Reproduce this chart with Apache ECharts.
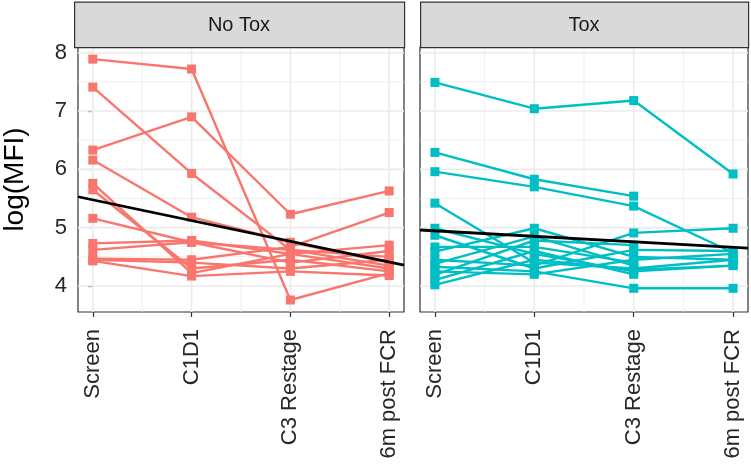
<!DOCTYPE html>
<html>
<head>
<meta charset="utf-8">
<script src="https://cdn.jsdelivr.net/npm/echarts@6/dist/echarts.min.js"></script>
<style>html,body{margin:0;padding:0;background:#fff;}#c{width:751px;height:476px;}</style>
</head>
<body>
<div id="c"></div>
<script>
// ---- data ----
const categories = ['Screen', 'C1D1', 'C3 Restage', '6m post FCR'];
const panels = ['No Tox', 'Tox'];
const yTicks = [4, 5, 6, 7, 8];
const yMinorTicks = [4.5, 5.5, 6.5, 7.5];
const xTicks = [0, 1, 2, 3];
const xMinorTicks = [0.5, 1.5, 2.5];

// No Tox subjects (values at Screen, C1D1, C3 Restage, 6m post FCR)
const noToxSubjects = [
  [7.89, 7.72, 3.76, 4.22],
  [7.41, 5.93, 4.62, 4.35],
  [6.33, 6.90, 5.23, 5.63],
  [6.16, 5.18, 4.75, 4.40],
  [5.76, 4.22, 4.55, 4.30],
  [5.65, 4.30, 4.45, 4.25],
  [5.16, 4.75, 4.62, 4.50],
  [4.73, 4.78, 4.55, 4.70],
  [4.62, 4.75, 4.40, 4.60],
  [4.47, 4.45, 4.67, 5.26],
  [4.45, 4.40, 4.30, 4.45],
  [4.43, 4.17, 4.25, 4.18]
];
// Tox subjects
const toxSubjects = [
  [7.49, 7.04, 7.18, 5.92],
  [6.29, 5.83, 5.54, null],
  [5.96, 5.70, 5.37, 4.57],
  [5.42, 4.40, 4.30, 4.45],
  [4.99, 4.55, 4.25, 4.35],
  [4.87, 4.30, 4.62, 4.60],
  [4.67, 4.67, 4.40, null],
  [4.59, 4.99, 4.50, 4.45],
  [4.45, 4.35, 4.91, 4.99],
  [4.38, 4.85, 4.35, null],
  [4.33, 4.25, 3.96, 3.96],
  [4.25, 4.20, 4.45, 4.55],
  [4.19, 4.78, 4.70, null],
  [4.10, 4.60, 4.20, null],
  [4.02, 4.45, 4.28, 4.35]
];
// fitted regression lines (intercept at Screen, slope per time step)
const noToxFit = [5.477, -0.355];
const toxFit = [4.946, -0.094];

// ---- layout / style ----
const colors = ['#F8766D', '#00BFC4'];
const xMin = -0.15, xMax = 3.15;
const yMin = 3.554, yMax = 8.098;
const gridsPx = [{left: 74, width: 330}, {left: 420, width: 328}];
const gridTop = 47, gridHeight = 265;
const FONT = 'Liberation Sans, Arial, sans-serif';

const chart = echarts.init(document.getElementById('c'), null, {renderer: 'canvas'});

const grid = [], xAxis = [], yAxis = [], series = [], graphic = [];
const subjectsByPanel = [noToxSubjects, toxSubjects];
const fits = [noToxFit, toxFit];

function gridSeries(i, pts, width) {
  return {type: 'line', xAxisIndex: i, yAxisIndex: i, data: pts, z: 1, silent: true,
    symbol: 'none', lineStyle: {color: '#EBEBEB', width: width}, animation: false,
    emphasis: {disabled: true}};
}

gridsPx.forEach((g, i) => {
  grid.push({left: g.left, top: gridTop, width: g.width, height: gridHeight,
    show: true, borderColor: '#333333', borderWidth: 1.2, backgroundColor: '#fff', containLabel: false, z: 0});
  xAxis.push({
    type: 'value', gridIndex: i, min: xMin, max: xMax,
    axisLine: {show: false},
    splitLine: {show: false},
    axisTick: {show: true, customValues: xTicks, length: 5, lineStyle: {color: '#333333', width: 1.2}},
    axisLabel: {show: true, customValues: xTicks, rotate: 90, margin: 17,
      fontFamily: FONT, fontSize: 22, color: '#262626',
      formatter: v => categories[Math.round(v)]}
  });
  yAxis.push({
    type: 'value', gridIndex: i, min: yMin, max: yMax,
    axisLine: {show: false},
    splitLine: {show: false},
    axisTick: {show: i === 0, customValues: yTicks, length: 5, lineStyle: {color: '#333333', width: 1.2}},
    axisLabel: {show: i === 0, customValues: yTicks, margin: 11,
      fontFamily: FONT, fontSize: 22, color: '#262626'},
    name: i === 0 ? 'log(MFI)' : '',
    nameLocation: 'middle', nameGap: 49, nameRotate: 90,
    nameTextStyle: {fontFamily: FONT, fontSize: 28, color: '#000'}
  });
  // gridlines (minor then major)
  yMinorTicks.forEach(v => series.push(gridSeries(i, [[xMin, v], [xMax, v]], 0.8)));
  xMinorTicks.forEach(v => series.push(gridSeries(i, [[v, yMin], [v, yMax]], 0.8)));
  yTicks.forEach(v => series.push(gridSeries(i, [[xMin, v], [xMax, v]], 1.6)));
  xTicks.forEach(v => series.push(gridSeries(i, [[v, yMin], [v, yMax]], 1.6)));
  // subject lines
  subjectsByPanel[i].forEach(s => {
    series.push({type: 'line', xAxisIndex: i, yAxisIndex: i, z: 3,
      data: s.map((v, k) => v == null ? [k, '-'] : [k, v]),
      symbol: 'rect', symbolSize: 9, showSymbol: true,
      itemStyle: {color: colors[i], borderWidth: 0}, lineStyle: {color: colors[i], width: 2.4},
      emphasis: {disabled: true},
      connectNulls: false, animation: false, silent: true});
  });
  // regression line
  const f = fits[i];
  series.push({type: 'line', xAxisIndex: i, yAxisIndex: i, z: 4,
    data: [[xMin, f[0] + f[1] * xMin], [xMax, f[0] + f[1] * xMax]],
    symbol: 'none', lineStyle: {color: '#000', width: 2.8}, animation: false, silent: true});
  // strip
  graphic.push({type: 'rect', left: g.left, top: 1.5, z: 10,
    shape: {width: g.width, height: gridTop - 1.5},
    style: {fill: '#D9D9D9', stroke: '#333333', lineWidth: 1.2}});
  graphic.push({type: 'text', x: g.left + g.width / 2, y: 25, z: 11,
    style: {text: panels[i], fill: '#1A1A1A', font: '20px "Liberation Sans", Arial, sans-serif',
      textAlign: 'center', textVerticalAlign: 'middle'}});
});

chart.setOption({animation: false, backgroundColor: '#fff', grid, xAxis, yAxis, series, graphic});
</script>
</body>
</html>
